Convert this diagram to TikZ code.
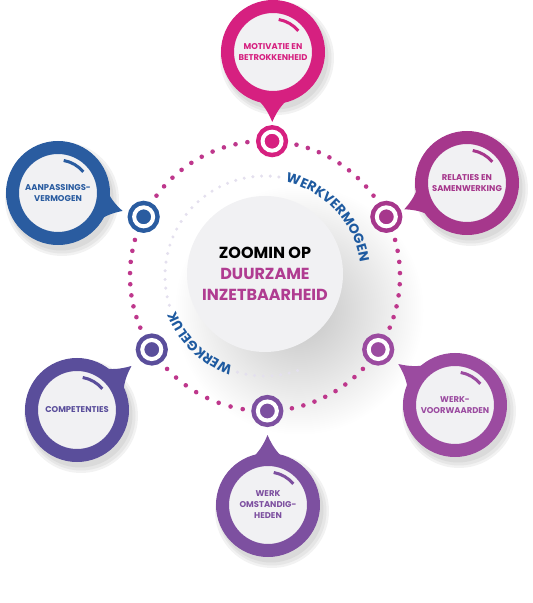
\documentclass[tikz,border=0pt]{standalone}
\usepackage{fontspec}
\setmainfont{Poppins}
\usetikzlibrary{calc,backgrounds,decorations.text}

\definecolor{motiv}{HTML}{D62080}
\definecolor{aanp}{HTML}{2A5CA0}
\definecolor{relat}{HTML}{A6378C}
\definecolor{voorw}{HTML}{9B4BA0}
\definecolor{omst}{HTML}{7D50A0}
\definecolor{compet}{HTML}{5A4E9B}
\definecolor{arctext}{HTML}{1E5AA0}
\definecolor{ringdot}{HTML}{BE378C}
\definecolor{duur}{HTML}{B03C91}
\definecolor{paper}{HTML}{F1F1F3}
\definecolor{faintdot}{HTML}{E4E0EE}

\begin{document}
\begin{tikzpicture}[x=1pt, y=1pt,
		bubble/.style={circle,draw=#1,line width=13pt,fill=paper,minimum size=91pt,inner sep=0pt,align=center,text=#1,font=\bfseries\fontsize{8.4}{11}\selectfont},
		ring_node/.style={circle,fill=#1,draw=#1,double=white,double distance=4pt,line width=4.5pt,minimum size=19pt,inner sep=0pt},
		tail/.style={fill=#1},
		deco_arc/.style={draw=#1,line width=3pt},
		center_node/.style={circle,fill=paper,minimum size=156pt,inner sep=0pt,align=center,font=\bfseries\fontsize{16}{21}\selectfont},
		soft_shadow/.style={fill=black,opacity=0.05}]

		\useasboundingbox (0,0) rectangle (533,603);
		\coordinate (c) at (265,327);

		\node[center_node] (zoom) at (265,329) {ZOOMIN OP\\\textcolor{duur}{DUURZAME}\\\textcolor{duur}{INZETBAARHEID}};

		\node[ring_node=motiv] (s1) at ($(c)+(87:135)$) {};
		\node[ring_node=relat] (s2) at ($(c)+(26:135)$) {};
		\node[ring_node=voorw] (s3) at ($(c)+(-33:135)$) {};
		\node[ring_node=omst] (s4) at ($(c)+(-89:135)$) {};
		\node[ring_node=compet] (s5) at ($(c)+(213:135)$) {};
		\node[ring_node=aanp] (s6) at ($(c)+(154:135)$) {};

		\node[bubble=motiv] (b1) at (273,551) {MOTIVATIE EN\\BETROKKENHEID};
		\node[bubble=relat] (b2) at (467,420) {RELATIES EN\\SAMENWERKING};
		\node[bubble=voorw] (b3) at (455,198) {WERK-\\VOORWAARDEN};
		\node[bubble=omst] (b4) at (268,98) {WERK\\OMSTANDIG-\\HEDEN};
		\node[bubble=compet] (b5) at (77,193) {COMPETENTIES};
		\node[bubble=aanp] (b6) at (58,410) {AANPASSINGS-\\VERMOGEN};

		% tails of the bubbles
		\fill[tail=motiv] ($(b1)!48pt!22:(s1)$) to[bend right=12] ($(b1)!70pt!(s1)$) to[bend right=12] ($(b1)!48pt!-22:(s1)$) -- cycle;
		\fill[tail=relat] ($(b2)!48pt!22:(s2)$) to[bend right=12] ($(b2)!68pt!(s2)$) to[bend right=12] ($(b2)!48pt!-22:(s2)$) -- cycle;
		\fill[tail=voorw] ($(b3)!48pt!22:(s3)$) to[bend right=12] ($(b3)!70pt!(s3)$) to[bend right=12] ($(b3)!48pt!-22:(s3)$) -- cycle;
		\fill[tail=omst] ($(b4)!48pt!22:(s4)$) to[bend right=12] ($(b4)!70pt!(s4)$) to[bend right=12] ($(b4)!48pt!-22:(s4)$) -- cycle;
		\fill[tail=compet] ($(b5)!48pt!22:(s5)$) to[bend right=12] ($(b5)!70pt!(s5)$) to[bend right=12] ($(b5)!48pt!-22:(s5)$) -- cycle;
		\fill[tail=aanp] ($(b6)!48pt!22:(s6)$) to[bend right=12] ($(b6)!67pt!(s6)$) to[bend right=12] ($(b6)!48pt!-22:(s6)$) -- cycle;

		% small arcs in the white discs
		\draw[deco_arc=motiv] ($(b1)+(80:33)$) arc[start angle=80,end angle=40,radius=33];
		\draw[deco_arc=relat] ($(b2)+(80:33)$) arc[start angle=80,end angle=40,radius=33];
		\draw[deco_arc=voorw] ($(b3)+(80:33)$) arc[start angle=80,end angle=40,radius=33];
		\draw[deco_arc=omst] ($(b4)+(80:33)$) arc[start angle=80,end angle=40,radius=33];
		\draw[deco_arc=compet] ($(b5)+(80:33)$) arc[start angle=80,end angle=40,radius=33];
		\draw[deco_arc=aanp] ($(b6)+(80:33)$) arc[start angle=80,end angle=40,radius=33];

		\path[decorate,decoration={text along path,text align=center,text color=arctext,
			text={|\bfseries\fontsize{13.5}{13.5}\selectfont|WERKVERMOGEN}}]
			($(c)+(84:96)$) arc[start angle=84,end angle=2,radius=96];
		\path[decorate,decoration={text along path,text align=center,text color=arctext,
			text={|\bfseries\fontsize{13.5}{13.5}\selectfont|WERKGELUK}}]
			($(c)+(255:96)$) arc[start angle=255,end angle=197,radius=96];

		\begin{scope}[on background layer]
			\shade[inner color=black!24,outer color=white] ($(c)+(34,-34)$) circle (125);
			\foreach \s/\e/\n in {26/87/8,87/154/9,154/213/8,213/271/7,271/327/7,327/386/8}
				\foreach \i in {0,...,\n}
					\fill[ringdot] ($(c)+({\s+10.5+\i*(\e-\s-21)/\n}:135)$) circle (2.3);
			\foreach \a in {82,87,...,198,254,259,...,289}
				\fill[faintdot] ($(c)+(\a:100)$) circle (1.7);
			\foreach \b in {b1,b2,b3,b4,b5,b6} {
				\fill[soft_shadow] ($(\b)+(4,-6)$) circle (57);
				\fill[soft_shadow] ($(\b)+(4,-6)$) circle (54.5);
				\fill[soft_shadow] ($(\b)+(3,-5)$) circle (52.5);
			}
		\end{scope}
\end{tikzpicture}
\end{document}
